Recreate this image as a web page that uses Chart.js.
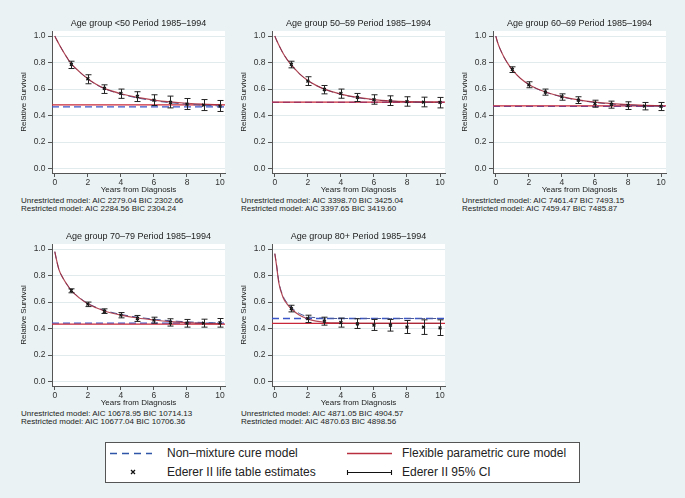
<!DOCTYPE html>
<html>
<head>
<meta charset="utf-8">
<script src="https://cdn.jsdelivr.net/npm/chart.js@4.4.1/dist/chart.umd.min.js"></script>
<style>
  body { margin: 0; }
  #fig { position: relative; width: 685px; height: 498px; background: #eaf2f3; font-family: "Liberation Sans", Arial, sans-serif; color: #222; overflow: hidden; }
  #fig canvas { position: absolute; }
  .fit { position: absolute; font-size: 8px; line-height: 8.2px; white-space: nowrap; }
  #legend { position: absolute; left: 105px; top: 442px; width: 473px; height: 39px; border: 1px solid #555; background: #fff; }
  #legend span { position: absolute; font-size: 12px; line-height: 14px; white-space: nowrap; }
  #legend svg { position: absolute; left: 0; top: 0; }
</style>
</head>
<body>
<div id="fig">
  <div id="legend">
    <svg width="473" height="39">
      <line x1="4" y1="10.5" x2="46" y2="10.5" stroke="#2f55a8" stroke-width="1.3" stroke-dasharray="7,5"/>
      <line x1="241" y1="10.5" x2="286" y2="10.5" stroke="#b83040" stroke-width="1.3"/>
      <path d="M25 27 L29 31 M29 27 L25 31" stroke="#111" stroke-width="1.3"/>
      <path d="M241 29.5 L286 29.5 M241.5 27 L241.5 32 M285.5 27 L285.5 32" stroke="#111" stroke-width="1.1"/>
    </svg>
    <span style="left:61px; top:3px">Non–mixture cure model</span>
    <span style="left:296px; top:3px">Flexible parametric cure model</span>
    <span style="left:61px; top:22px">Ederer II life table estimates</span>
    <span style="left:296px; top:22px">Ederer II 95% CI</span>
  </div>
</div>
<script>
var years = [1, 2, 3, 4, 5, 6, 7, 8, 9, 10];
var curveTimes = [0, 0.1, 0.25, 0.5, 0.75, 1, 1.5, 2, 2.5, 3, 4, 5, 6, 7, 8, 9, 10];
var xTicks = [0, 2, 4, 6, 8, 10];
var yTicks = [0, 0.2, 0.4, 0.6, 0.8, 1];
var xMin = -0.17, xMax = 10.3, yMin = -0.033, yMax = 1.038;

// age <50
var est50 = [0.786, 0.678, 0.605, 0.567, 0.544, 0.516, 0.500, 0.486, 0.479, 0.471];
var lo50 = [0.755, 0.640, 0.567, 0.530, 0.506, 0.476, 0.458, 0.446, 0.438, 0.431];
var hi50 = [0.810, 0.708, 0.632, 0.600, 0.580, 0.557, 0.547, 0.529, 0.521, 0.514];
var flex50 = [1.0, 0.975, 0.94, 0.885, 0.835, 0.79, 0.73, 0.678, 0.636, 0.605, 0.565, 0.537, 0.517, 0.503, 0.493, 0.486, 0.482];
var nonmix50 = [1.0, 0.975, 0.94, 0.885, 0.835, 0.788, 0.728, 0.676, 0.634, 0.603, 0.562, 0.533, 0.512, 0.497, 0.486, 0.478, 0.473];
var cure50 = {flex: 0.481, nonmix: 0.466};

// age 50-59
var est5059 = [0.786, 0.660, 0.597, 0.567, 0.537, 0.521, 0.511, 0.506, 0.501, 0.499];
var lo5059 = [0.760, 0.627, 0.564, 0.531, 0.506, 0.486, 0.476, 0.471, 0.466, 0.458];
var hi5059 = [0.810, 0.693, 0.627, 0.600, 0.567, 0.557, 0.549, 0.542, 0.539, 0.537];
var flex5059 = [1.0, 0.97, 0.93, 0.87, 0.822, 0.782, 0.715, 0.665, 0.628, 0.60, 0.562, 0.537, 0.521, 0.511, 0.505, 0.502, 0.501];
var nonmix5059 = [1.0, 0.97, 0.93, 0.87, 0.822, 0.781, 0.714, 0.664, 0.627, 0.599, 0.56, 0.535, 0.519, 0.509, 0.503, 0.50, 0.499];
var cure5059 = {flex: 0.501, nonmix: 0.499};

// age 60-69
var est6069 = [0.748, 0.632, 0.577, 0.542, 0.516, 0.491, 0.484, 0.476, 0.471, 0.469];
var lo6069 = [0.725, 0.610, 0.554, 0.516, 0.491, 0.463, 0.456, 0.446, 0.443, 0.438];
var hi6069 = [0.768, 0.655, 0.600, 0.564, 0.542, 0.516, 0.509, 0.504, 0.499, 0.499];
var flex6069 = [1.0, 0.955, 0.905, 0.84, 0.788, 0.745, 0.68, 0.635, 0.602, 0.578, 0.543, 0.518, 0.501, 0.49, 0.482, 0.477, 0.474];
var nonmix6069 = [1.0, 0.955, 0.905, 0.84, 0.787, 0.744, 0.679, 0.634, 0.601, 0.577, 0.541, 0.516, 0.499, 0.487, 0.479, 0.474, 0.471];
var cure6069 = {flex: 0.474, nonmix: 0.469};

// age 70-79
var est7079 = [0.687, 0.584, 0.531, 0.501, 0.476, 0.464, 0.446, 0.441, 0.441, 0.444];
var lo7079 = [0.670, 0.566, 0.514, 0.481, 0.454, 0.441, 0.419, 0.411, 0.411, 0.411];
var hi7079 = [0.700, 0.600, 0.549, 0.521, 0.499, 0.486, 0.474, 0.469, 0.471, 0.476];
var flex7079 = [0.98, 0.92, 0.845, 0.78, 0.73, 0.687, 0.63, 0.587, 0.557, 0.533, 0.502, 0.48, 0.465, 0.453, 0.445, 0.439, 0.436];
var nonmix7079 = [0.98, 0.92, 0.845, 0.78, 0.73, 0.688, 0.632, 0.59, 0.56, 0.537, 0.507, 0.486, 0.471, 0.459, 0.451, 0.446, 0.443];
var cure7079 = {flex: 0.434, nonmix: 0.441};

// age 80+
var est80 = [0.551, 0.476, 0.456, 0.446, 0.436, 0.426, 0.426, 0.411, 0.411, 0.406];
var lo80 = [0.526, 0.446, 0.426, 0.411, 0.401, 0.386, 0.381, 0.363, 0.356, 0.348];
var hi80 = [0.576, 0.501, 0.486, 0.479, 0.474, 0.469, 0.469, 0.461, 0.466, 0.466];
var flex80 = [0.965, 0.88, 0.74, 0.635, 0.585, 0.55, 0.50, 0.472, 0.456, 0.448, 0.442, 0.44, 0.439, 0.439, 0.439, 0.439, 0.439];
var nonmix80 = [0.965, 0.885, 0.75, 0.645, 0.595, 0.56, 0.513, 0.49, 0.482, 0.478, 0.476, 0.476, 0.476, 0.476, 0.476, 0.476, 0.476];
var cure80 = {flex: 0.439, nonmix: 0.476};

var panels = [
  {title: 'Age group <50 Period 1985–1994', est: est50, lo: lo50, hi: hi50, flex: flex50, nonmix: nonmix50, cure: cure50,
   fit: ['Unrestricted model: AIC 2279.04 BIC 2302.66', 'Restricted model: AIC 2284.56 BIC 2304.24'], left: 52, top: 31},
  {title: 'Age group 50–59 Period 1985–1994', est: est5059, lo: lo5059, hi: hi5059, flex: flex5059, nonmix: nonmix5059, cure: cure5059,
   fit: ['Unrestricted model: AIC 3398.70 BIC 3425.04', 'Restricted model: AIC 3397.65 BIC 3419.60'], left: 272, top: 31},
  {title: 'Age group 60–69 Period 1985–1994', est: est6069, lo: lo6069, hi: hi6069, flex: flex6069, nonmix: nonmix6069, cure: cure6069,
   fit: ['Unrestricted model: AIC 7461.47 BIC 7493.15', 'Restricted model: AIC 7459.47 BIC 7485.87'], left: 493, top: 31},
  {title: 'Age group 70–79 Period 1985–1994', est: est7079, lo: lo7079, hi: hi7079, flex: flex7079, nonmix: nonmix7079, cure: cure7079,
   fit: ['Unrestricted model: AIC 10678.95 BIC 10714.13', 'Restricted model: AIC 10677.04 BIC 10706.36'], left: 52, top: 244},
  {title: 'Age group 80+ Period 1985–1994', est: est80, lo: lo80, hi: hi80, flex: flex80, nonmix: nonmix80, cure: cure80,
   fit: ['Unrestricted model: AIC 4871.05 BIC 4904.57', 'Restricted model: AIC 4870.63 BIC 4898.56'], left: 272, top: 244}
];

var FONT = '"Liberation Sans", Arial, sans-serif';
var BLUE = '#3a55c8', RED = '#c8283a', AXIS = '#555';
Chart.defaults.font.family = FONT;
Chart.defaults.color = '#222';

var plotBg = {
  id: 'plotBg',
  beforeDraw: function(chart) {
    var a = chart.chartArea;
    chart.ctx.save();
    chart.ctx.fillStyle = '#fff';
    chart.ctx.fillRect(a.left, a.top, a.right - a.left, a.bottom - a.top);
    chart.ctx.restore();
  }
};

function errorBars(lo, hi) {
  return {
    id: 'errorBars',
    afterDatasetsDraw: function(chart) {
      var xs = chart.scales.x, ys = chart.scales.y, ctx = chart.ctx;
      ctx.save();
      ctx.strokeStyle = '#222';
      ctx.lineWidth = 1;
      for (var i = 0; i < years.length; i++) {
        var x = Math.round(xs.getPixelForValue(years[i])) + 0.5;
        var y1 = ys.getPixelForValue(lo[i]), y2 = ys.getPixelForValue(hi[i]);
        ctx.beginPath();
        ctx.moveTo(x, y1); ctx.lineTo(x, y2);
        ctx.moveTo(x - 3, y1); ctx.lineTo(x + 3, y1);
        ctx.moveTo(x - 3, y2); ctx.lineTo(x + 3, y2);
        ctx.stroke();
      }
      ctx.restore();
    }
  };
}

function pts(xs, ys) {
  return xs.map(function(x, i) { return {x: x, y: ys[i]}; });
}

var fig = document.getElementById('fig');
panels.forEach(function(p) {
  var cv = document.createElement('canvas');
  cv.width = 215; cv.height = 180;
  cv.style.left = (p.left - 36) + 'px';
  cv.style.top = (p.top - 15) + 'px';
  fig.appendChild(cv);

  var note = document.createElement('div');
  note.className = 'fit';
  note.style.left = (p.left - 31) + 'px';
  note.style.top = (p.top + 142 + 24) + 'px';
  note.innerHTML = p.fit.join('<br>');
  fig.appendChild(note);

  new Chart(cv, {
    type: 'line',
    data: {
      datasets: [
        {data: pts(years, p.est), showLine: false, pointStyle: 'crossRot', pointRadius: 2,
         pointBorderWidth: 1.4, pointBorderColor: '#111', pointBackgroundColor: '#111'},
        {data: pts(curveTimes, p.flex), borderColor: 'rgba(165,40,55,0.85)', borderWidth: 1.2, pointRadius: 0, cubicInterpolationMode: 'monotone'},
        {data: pts(curveTimes, p.nonmix), borderColor: '#4a5a9a', borderWidth: 1, borderDash: [7, 4], pointRadius: 0, cubicInterpolationMode: 'monotone'},
        {data: pts([xMin, xMax], [p.cure.flex, p.cure.flex]), borderColor: RED, borderWidth: 1.3, pointRadius: 0},
        {data: pts([xMin, xMax], [p.cure.nonmix, p.cure.nonmix]), borderColor: BLUE, borderWidth: 1.3, borderDash: [7, 4], pointRadius: 0}
      ]
    },
    options: {
      responsive: false,
      animation: false,
      events: [],
      layout: {padding: {right: 6}},
      plugins: {
        legend: {display: false},
        tooltip: {enabled: false},
        title: {display: true, text: p.title, fullSize: false, color: '#222',
                font: {size: 9, weight: 'normal'}, padding: {top: 2, bottom: 2.2}}
      },
      scales: {
        x: {
          type: 'linear', min: xMin, max: xMax,
          afterBuildTicks: function(s) { s.ticks = xTicks.map(function(v) { return {value: v}; }); },
          afterFit: function(s) { s.height = 23; },
          ticks: {font: {size: 8.5}, color: '#333', padding: 1, maxRotation: 0, callback: function(v) { return v; }},
          grid: {drawOnChartArea: false, tickLength: 4, tickColor: AXIS},
          border: {color: AXIS},
          title: {display: true, text: 'Years from Diagnosis', font: {size: 8}, color: '#222', padding: {top: 0, bottom: 1}}
        },
        y: {
          min: yMin, max: yMax,
          afterBuildTicks: function(s) { s.ticks = yTicks.map(function(v) { return {value: v}; }); },
          afterFit: function(s) { s.width = 36; },
          ticks: {font: {size: 8.5}, color: '#333', padding: 2.5, callback: function(v) { return v.toFixed(1); }},
          grid: {color: '#e1eaec', tickLength: 4, tickColor: AXIS},
          border: {color: AXIS},
          title: {display: true, text: 'Relative Survival', font: {size: 8}, color: '#222', padding: {top: 2.8, bottom: 0}}
        }
      }
    },
    plugins: [plotBg, errorBars(p.lo, p.hi)]
  });
});
</script>
</body>
</html>
